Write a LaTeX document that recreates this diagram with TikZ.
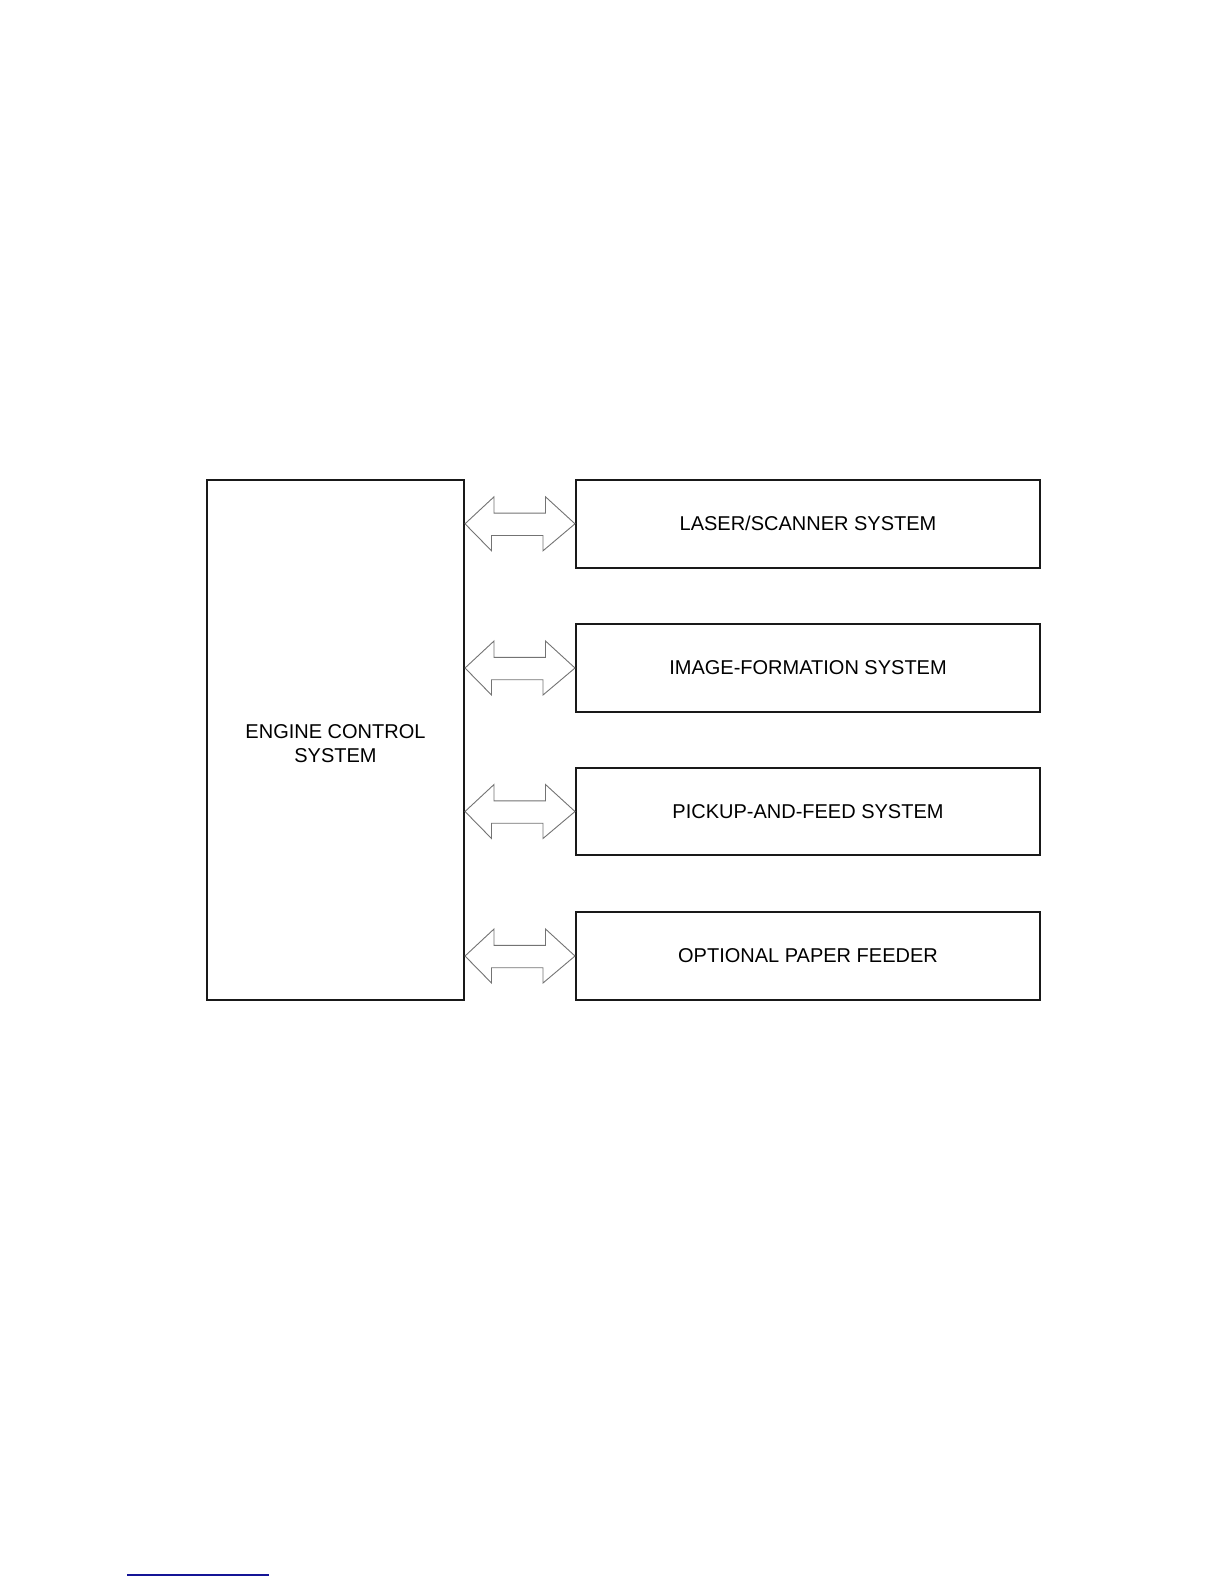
\documentclass[tikz,border=0pt]{standalone}
\usepackage{fontspec}
\setmainfont{Liberation Sans}
\begin{document}
\begin{tikzpicture}[x=1pt,y=-1pt,
  sysbox/.style={draw=black!90,line width=2pt,inner sep=0pt,font=\fontsize{20}{24.5}\selectfont,align=center},
  dblarrow/.style={draw=black!55,line width=0.9pt,fill=white,line join=miter}]
\useasboundingbox (0,0) rectangle (1224,1584);
\node[sysbox,minimum width=257pt,minimum height=520pt] (ecs) at (335.5,740) {\\[-3pt]ENGINE CONTROL\\SYSTEM};
\node[sysbox,minimum width=464pt,minimum height=87.5pt] (b1) at (808,523.8) {LASER/SCANNER SYSTEM};
\node[sysbox,minimum width=464pt,minimum height=87.5pt] (b2) at (808,668) {IMAGE-FORMATION SYSTEM};
\node[sysbox,minimum width=464pt,minimum height=87.5pt] (b3) at (808,811.5) {PICKUP-AND-FEED SYSTEM};
\node[sysbox,minimum width=464pt,minimum height=87.5pt] (b4) at (808,956) {OPTIONAL PAPER FEEDER};
\foreach \b in {b1,b2,b3,b4}{
  \path (ecs.east |- \b.west) coordinate (L) (\b.west) coordinate (R);
  \draw[dblarrow] (L) -- ++(29,-27) -- ++(0,16.3) -- ++(51.5,0) -- ++(0,-16.3) -- (R) -- ++(-32,27) -- ++(0,-15.3) -- ++(-51.5,0) -- ++(0,15.3) -- cycle;
}
\draw[line width=1.3pt,draw={rgb,255:red,20;green,20;blue,150}] (127,1575) coordinate (u1) -- (269,1575) coordinate (u2);
\end{tikzpicture}
\end{document}
